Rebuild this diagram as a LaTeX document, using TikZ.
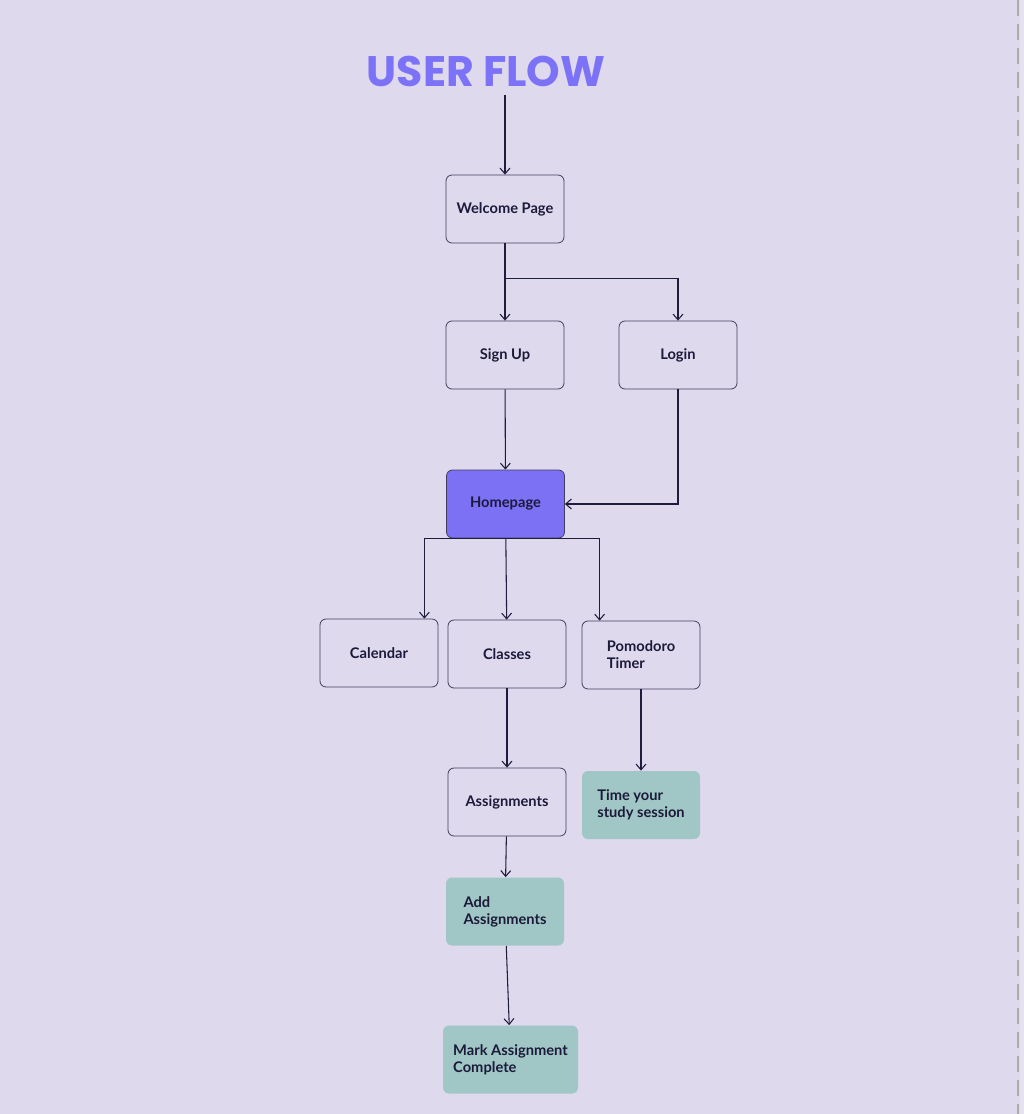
\documentclass[tikz,border=0pt]{standalone}
\usepackage{fontspec}
\setmainfont{Lato}
\newfontfamily\titlefont{Poppins}
\usepackage{tikz}
\usetikzlibrary{arrows.meta,positioning}
\definecolor{bgpurple}{HTML}{DFD9EE}
\definecolor{edgepurple}{HTML}{E6E2F1}
\definecolor{titleviolet}{HTML}{7B72F7}
\definecolor{homeviolet}{HTML}{7C71F5}
\definecolor{notegreen}{HTML}{A0C7C5}
\definecolor{linkdark}{HTML}{1F1D3D}
\definecolor{textnavy}{HTML}{1C1A3A}

\begin{document}
\begin{tikzpicture}[x=0.75pt, y=-0.75pt,
  font=\fontsize{11}{12.75}\selectfont\bfseries,
  box/.style={draw=linkdark!85, rounded corners=4.5pt, line width=0.6pt, align=left,
              text=textnavy, inner sep=0pt, minimum width=88.5pt, minimum height=51pt},
  note/.style={box, draw=none, fill=notegreen},
  a/.style={-{Straight Barb[length=1.5mm,width=2.6mm]}, draw=linkdark, line width=0.8pt},
  l/.style={draw=linkdark, line width=0.8pt}]
\useasboundingbox (0,0) rectangle (1024,1114);
\fill[bgpurple] (0,0) rectangle (1024,1114);
\fill[edgepurple] (1020,0) rectangle (1024,1114);
\draw[gray!65, line width=1.5pt, dash pattern=on 12pt off 6pt] (1018,0) -- (1018,1114);
\node[font=\titlefont\fontsize{32}{32}\selectfont\bfseries, text=titleviolet, inner sep=6pt]
  (title) at (486,71) {USER FLOW};
\node[box] (welcome) at (505,209) {Welcome Page};
\node[box] (signup) at (505,355) {Sign Up};
\node[box] (login) at (678,355) {Login};
\node[box, fill=homeviolet] (home) at (505.5,504) {Homepage};
\node[box] (calendar) at (379,653) {Calendar};
\node[box] (classes) at (507,654) {Classes};
\node[box] (pomo) at (641,655) {Pomodoro\\Timer};
\node[box] (assign) at (507,802) {Assignments};
\node[note] (studytime) at (641,805) {Time your\\study session};
\node[note] (addassign) at (505,911.5) {Add\\Assignments};
\node[note, minimum width=101.25pt] (markdone) at (510.5,1059.5) {Mark Assignment\\Complete};
\coordinate[below=26.25pt of welcome.south] (wsplit);
\coordinate[left=10.5pt of calendar.north east] (calin);
\coordinate[right=13.5pt of pomo.north west] (pomoin);
\draw[a] (welcome.north |- title.south) -- (welcome);
\draw[a] (welcome) -- (signup);
\draw[a] (wsplit) -| (login.north);
\draw[a] (signup) -- (home);
\draw[a] (login.south) |- (home.east);
\draw[l] (home.south -| calin) -- (home.south -| pomoin);
\draw[a] (home.south -| calin) -- (calin);
\draw[a] (home) -- (classes);
\draw[a] (home.south -| pomoin) -- (pomoin);
\draw[a] (classes) -- (assign);
\draw[a] (pomo) -- (studytime);
\draw[a] (assign) -- (addassign);
\draw[a] (addassign) -- (markdone);
\end{tikzpicture}
\end{document}
